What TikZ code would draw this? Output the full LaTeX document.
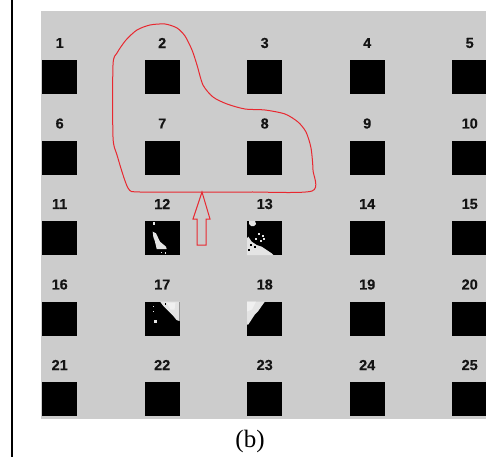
\documentclass[tikz,border=0pt]{standalone}
\usepackage{fontspec}
\setmainfont{Liberation Serif}
\newfontfamily\labelfont[FakeBold=0.15]{Liberation Sans}
\definecolor{panelgray}{RGB}{204,204,204}
\definecolor{inkred}{RGB}{232,40,48}
\definecolor{pale}{RGB}{228,228,228}
\definecolor{paler}{RGB}{240,240,240}
\begin{document}
\begin{tikzpicture}[x=1pt,y=-1pt,
  cell/.style={fill=black, draw=none, minimum width=35pt, minimum height=34pt,
               inner sep=0pt, anchor=north west},
  celltag/.style={font=\labelfont\bfseries\fontsize{14.5}{14.5}\selectfont, inner sep=0pt, text=black!92},
  outline/.style={draw=inkred, line width=1pt, line join=round},
  blob/.style={fill=pale, draw=none},
  dot/.style={fill=black, draw=none}]

% page and frame
\useasboundingbox (0,0) rectangle (486,457);
\fill[white] (0,0) rectangle (486,457);
\draw[line width=2pt] (11.5,0) -- (11.5,457);
\fill[panelgray] (41,11) rectangle (486,419);

% 5 x 5 grid of cells with their numbers
\foreach \r in {0,...,4} {
  \foreach \c in {0,...,4} {
    \pgfmathtruncatemacro\n{5*\r+\c+1}
    \pgfmathsetmacro\xx{42+102.5*\c}
    \pgfmathsetmacro\yy{60+80.5*\r}
    \node[cell] (s\n) at (\xx,\yy) {};
    \node[celltag] (t\n) at ([yshift=17pt]s\n.north) {\n};
  }
}

% cell 12: narrow bright patch
\begin{scope}[shift={(s12.north west)}]
  \fill[blob] (8.8,0.5) rectangle (10.3,4);
  \fill[blob] (8.2,10.7) -- (11.5,12.3) -- (15.5,20.7) -- (21.5,25.7) -- (22.2,28)
     -- (12.2,28) -- (10.5,20.7) -- (8.8,15.7) -- cycle;
  \fill[blob] (16,30.5) rectangle (17.5,32);
  \fill[blob] (20,31) rectangle (21.5,32.5);
\end{scope}

% cell 13: scattered patches
\begin{scope}[shift={(s13.north west)}]
  \fill[blob] (2,0) -- (8,0) -- (9,3) -- (7,5) -- (4,5) -- (2,3) -- cycle;
  \fill[blob] (11,12) rectangle (13,14);
  \fill[blob] (14.5,13.5) rectangle (16.5,15.5);
  \fill[blob] (16,17) rectangle (18,19);
  \fill[blob] (12.5,18.5) rectangle (14.5,20.5);
  \fill[blob] (7.5,16.5) rectangle (9.5,18.5);
  \fill[blob] (0,17.3) -- (1.3,15.7) -- (4.7,20.7) -- (9.7,24) -- (14.7,25.7)
     -- (19.7,29) -- (24.7,32.3) -- (26.3,34) -- (0,34) -- cycle;
  \fill[dot] (3,23) rectangle (5,25);
  \fill[dot] (7,25) rectangle (8.5,26.5);
  \fill[dot] (1,28) rectangle (2.5,29.5);
\end{scope}

% cell 17: bright upper right corner
\begin{scope}[shift={(s17.north west)}]
  \fill[blob] (15.5,0) -- (35,0) -- (35,19.5) -- (32,18.5) -- (28.8,14.5)
     -- (23.8,9.5) -- (18.8,4.5) -- cycle;
  \fill[paler] (22,1) -- (31,1) -- (30,8) -- (26,8) -- cycle;
  \fill[dot] (20,1.5) rectangle (21.5,3);
  \fill[blob] (8,4) rectangle (9.8,5.8);
  \fill[blob] (8,9) rectangle (9.5,10.5);
  \fill[blob] (9.5,18.5) rectangle (12,21);
\end{scope}

% cell 18: bright upper left corner
\begin{scope}[shift={(s18.north west)}]
  \fill[pale] (0,0) -- (18,0) -- (14.7,4.5) -- (11.3,9.5) -- (8,12.8)
     -- (4.7,17.8) -- (1.3,23) -- (0,23) -- cycle;
  \fill[paler] (0,0) -- (9,0) -- (5,8) -- (0,10) -- cycle;
\end{scope}

% hand-drawn outline around cells 2, 7, 8
\draw[outline] plot[smooth cycle, tension=0.45] coordinates {
  (128,188) (140,192) (202,192) (250,192) (312,191) (313,170) (311,148)
  (306,132) (298,122) (285,114) (265,110) (245,109) (227,104) (213,97)
  (203,85) (197,65) (192,50) (185,36) (177,28) (165,24) (150,25) (137,30)
  (126,40) (117,53) (113,65) (113,137) (117,155)};

% hollow arrow pointing at the outline
\coordinate (tip) at (202,192);
\draw[outline, line join=miter] (tip) -- (210,219) -- (206,219) -- (206,245)
  -- (197,245) -- (197,219) -- (193,219) -- cycle;

% caption
\node[font=\fontsize{25}{25}\selectfont, inner sep=0pt] (cap) at (250,441) {(b)};
\end{tikzpicture}
\end{document}
